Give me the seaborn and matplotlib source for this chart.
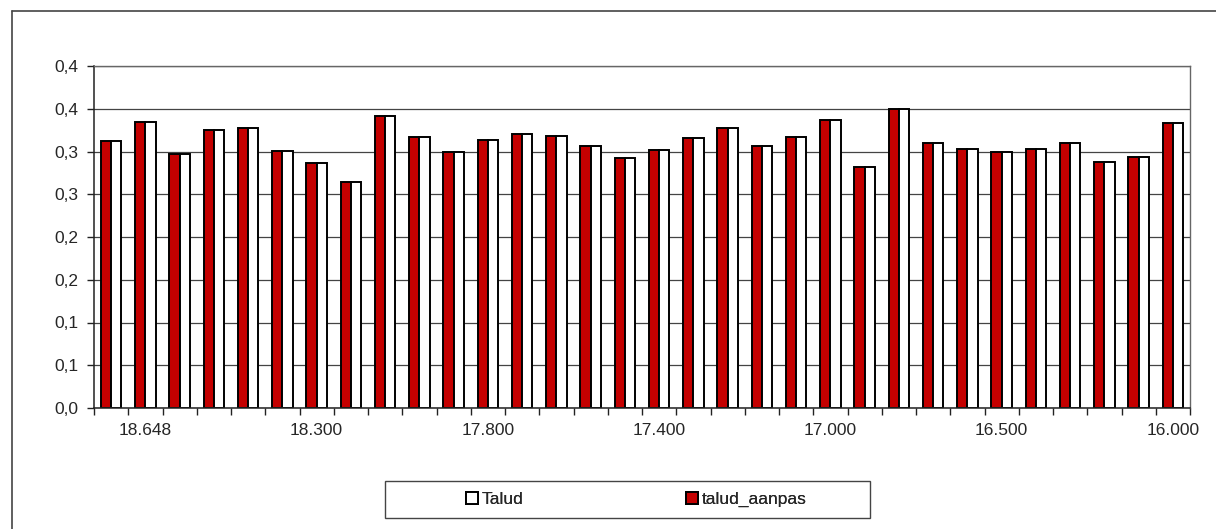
import matplotlib
matplotlib.use("Agg")
import matplotlib.pyplot as plt
import matplotlib.lines as mlines
import matplotlib.patches as mpatches
import numpy as np
import pandas as pd
import seaborn as sns

# ---- data ----
locations = ["18.700", "18.648", "18.600", "18.500", "18.400", "18.350",
             "18.300", "18.200", "18.100", "18.000", "17.900", "17.800",
             "17.700", "17.600", "17.500", "17.450", "17.400", "17.300",
             "17.200", "17.100", "17.050", "17.000", "16.900", "16.800",
             "16.700", "16.600", "16.500", "16.400", "16.300", "16.200",
             "16.100", "16.000"]
talud_aanpas = [0.312, 0.334, 0.297, 0.325, 0.328, 0.301, 0.287, 0.264,
                0.341, 0.317, 0.300, 0.313, 0.321, 0.318, 0.306, 0.292,
                0.302, 0.316, 0.327, 0.307, 0.317, 0.337, 0.282, 0.350,
                0.310, 0.303, 0.300, 0.303, 0.310, 0.288, 0.293, 0.333]
talud = [0.312, 0.334, 0.297, 0.325, 0.328, 0.301, 0.287, 0.264,
         0.341, 0.317, 0.300, 0.313, 0.321, 0.318, 0.306, 0.292,
         0.302, 0.316, 0.327, 0.307, 0.317, 0.337, 0.282, 0.350,
         0.310, 0.303, 0.300, 0.303, 0.310, 0.288, 0.293, 0.333]
series_names = ["talud_aanpas", "Talud"]
y_ticks = [0.0, 0.05, 0.10, 0.15, 0.20, 0.25, 0.30, 0.35, 0.40]
y_labels = ["0,0", "0,1", "0,1", "0,2", "0,2", "0,3", "0,3", "0,4", "0,4"]
shown_every = 5
shown_start = 1

RED = "#C40000"
colors = {"talud_aanpas": RED, "Talud": "white"}
FS = 12.5

df = pd.DataFrame({
    "loc": locations * 2,
    "value": talud_aanpas + talud,
    "series": ["talud_aanpas"] * len(locations) + ["Talud"] * len(locations),
})

sns.set_theme(style="white")
plt.rcParams["font.family"] = ["Liberation Sans", "DejaVu Sans"]

W, H = 1216, 529
fig = plt.figure(figsize=(W / 100, H / 100), dpi=100)
ax = fig.add_axes([94 / W, 1 - 408 / H, (1190 - 94) / W, (408 - 66) / H])

sns.barplot(data=df, x="loc", y="value", hue="series", hue_order=series_names,
            order=locations, palette=colors, width=0.6, dodge=True,
            edgecolor="black", linewidth=1.4, ax=ax, legend=False, saturation=1)

n = len(locations)
ax.set_xlim(-0.5, n - 0.5)
ax.set_ylim(0, 0.40)
ax.set_yticks(y_ticks)
ax.set_yticklabels(y_labels, fontsize=FS)
ax.yaxis.grid(True, color="#444444", linewidth=0.9)
ax.set_axisbelow(True)

# x ticks: marks between categories, labels every 5th category
major = np.arange(-0.5, n, 1.0)
ax.set_xticks(major, minor=False)
ax.set_xticklabels([""] * len(major))
ax.set_xticks(np.arange(shown_start, n, shown_every), minor=True)
ax.set_xticklabels([locations[i] for i in range(shown_start, n, shown_every)],
                   minor=True, fontsize=FS)
ax.tick_params(axis="x", which="major", direction="out", length=5, width=1,
               color="#222222", bottom=True)
ax.tick_params(axis="x", which="minor", length=0, pad=11, bottom=True)
ax.tick_params(axis="y", direction="out", length=5, width=1, color="#222222",
               left=True, pad=6)
ax.set_xlabel("")
ax.set_ylabel("")

for side in ["left", "bottom"]:
    ax.spines[side].set_color("#222222")
    ax.spines[side].set_linewidth(1.1)
for side in ["top", "right"]:
    ax.spines[side].set_color("#666666")
    ax.spines[side].set_linewidth(1.0)

# outer chart frame
fig.add_artist(mlines.Line2D([12 / W, 1.0], [1 - 11 / H, 1 - 11 / H],
                             transform=fig.transFigure, color="#444444", lw=1.2))
fig.add_artist(mlines.Line2D([12 / W, 12 / W], [0.0, 1 - 11 / H],
                             transform=fig.transFigure, color="#444444", lw=1.2))

# legend frame
fig.add_artist(mpatches.Rectangle((385 / W, 1 - 518 / H), (870 - 385) / W, (518 - 481) / H,
                                  transform=fig.transFigure, facecolor="white",
                                  edgecolor="#444444", linewidth=1.0))

# legend entries (one per column, placed like the original)
entries = [("Talud", "white", 466), ("talud_aanpas", RED, 686)]
for label, fc, xpx in entries:
    h = mpatches.Patch(facecolor=fc, edgecolor="black", linewidth=1.4, label=label)
    lg = fig.legend(handles=[h], loc="center left",
                    bbox_to_anchor=(xpx / W, 1 - 499.5 / H), frameon=False,
                    fontsize=FS, handlelength=0.7, handleheight=0.7,
                    handletextpad=0.2, borderpad=0, borderaxespad=0)
    fig.add_artist(lg)

fig.savefig("out.png", dpi=100, facecolor="white")
